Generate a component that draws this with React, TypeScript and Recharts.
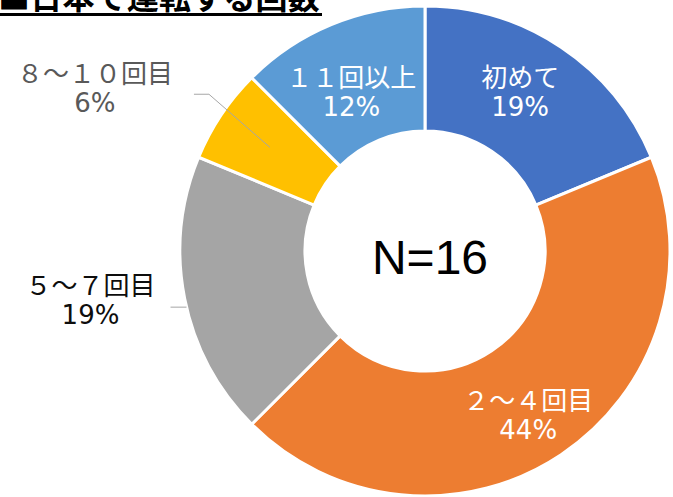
import React from 'react';
import { PieChart, Pie, Cell } from 'recharts';

// 日本で運転する回数 (N=16)
const categories = ['初めて', '２～４回目', '５～７回目', '８～１０回目', '１１回以上'];
const counts = [3, 7, 3, 1, 2];
const percentLabels = ['19%', '44%', '19%', '6%', '12%'];
const colors = ['#4472C4', '#ED7D31', '#A5A5A5', '#FFC000', '#5B9BD5'];
const title = '■日本で運転する回数';
const centerText = 'N=16';

const data = categories.map((name, i) => ({ name, value: counts[i], pct: percentLabels[i] }));

const FONT = '"DejaVu Sans", "Noto Sans CJK JP", sans-serif';
const CJK = '"Noto Sans CJK JP", sans-serif';
const RAD = Math.PI / 180;

const polar = (cx: number, cy: number, r: number, deg: number) => ({
  x: cx + r * Math.cos(-deg * RAD),
  y: cy + r * Math.sin(-deg * RAD),
});

// how each label sits: inside the ring (nudged off the mid-ring), or outside with a leader line
const labelLayout: any[] = [
  { mode: 'inside', fill: '#FFFFFF', dr: 2.5, dAngle: 2.8 },
  { mode: 'inside', fill: '#FFFFFF', dr: 11.5, dAngle: -1.6 },
  { mode: 'outside', fill: '#0D0D0D', r: 338, dAngle: -3, line: 'short' },
  { mode: 'outside', fill: '#595959', r: 368, dAngle: 7.5, line: 'elbow' },
  { mode: 'inside', fill: '#FFFFFF', dr: -7.5, dAngle: 2.4 },
];

const renderLabel = (props: any) => {
  const { cx, cy, midAngle, innerRadius, outerRadius, index } = props;
  const spec = labelLayout[index];
  const d = data[index];
  let pos;
  let leader = null;
  if (spec.mode === 'inside') {
    pos = polar(cx, cy, (innerRadius + outerRadius) / 2 + spec.dr, midAngle + spec.dAngle);
  } else {
    pos = polar(cx, cy, spec.r, midAngle + spec.dAngle);
    if (spec.line === 'short') {
      const end = polar(cx, cy, outerRadius, midAngle + 2);
      leader = <polyline points={`${end.x - 16},${end.y} ${end.x},${end.y}`} fill="none" stroke="#A6A6A6" strokeWidth={1} />;
    } else {
      const end = polar(cx, cy, (innerRadius + outerRadius) / 2 + 4, midAngle);
      const sx = pos.x + 99;
      const sy = pos.y + 6;
      leader = (
        <polyline
          points={`${sx},${sy} ${sx + 15},${sy} ${end.x},${end.y}`}
          fill="none"
          stroke="#A6A6A6"
          strokeWidth={1}
        />
      );
    }
  }
  return (
    <g key={`lbl-${index}`}>
      {leader}
      <text x={pos.x} y={pos.y - 14} textAnchor="middle" dominantBaseline="central" fontSize={26} fontFamily={FONT} fill={spec.fill}>
        {d.name}
      </text>
      <text x={pos.x} y={pos.y + 15} textAnchor="middle" dominantBaseline="central" fontSize={26} fontFamily={FONT} fill={spec.fill}>
        {d.pct}
      </text>
    </g>
  );
};

export default function App() {
  return (
    <div style={{ position: 'relative', width: 673, height: 497, background: '#fff' }}>
      <style>{`body{margin:0}`}</style>
      <PieChart width={673} height={497} margin={{ top: 0, right: 0, bottom: 0, left: 0 }}>
        <Pie
          data={data}
          dataKey="value"
          nameKey="name"
          cx={425}
          cy={251}
          innerRadius={120}
          outerRadius={245}
          startAngle={90}
          endAngle={-270}
          stroke="#FFFFFF"
          strokeWidth={3}
          label={renderLabel}
          labelLine={false}
          isAnimationActive={false}
        >
          {data.map((_, i) => (
            <Cell key={i} fill={colors[i]} />
          ))}
        </Pie>
      </PieChart>
      <svg width={673} height={497} style={{ position: 'absolute', left: 0, top: 0, pointerEvents: 'none' }}>
        <text
          x={Array.from(title).map((_, i) => -2 + i * 32.2).join(' ')}
          y={9}
          fontSize={32}
          fontWeight="bold"
          fontFamily={CJK}
          fill="#000"
        >
          {title}
        </text>
        <rect x={0} y={13} width={322} height={3} fill="#000" />
        <text x={430} y={257} textAnchor="middle" dominantBaseline="central" fontSize={48} fontFamily="Liberation Sans, Arial, sans-serif" fill="#000">
          {centerText}
        </text>
      </svg>
    </div>
  );
}
